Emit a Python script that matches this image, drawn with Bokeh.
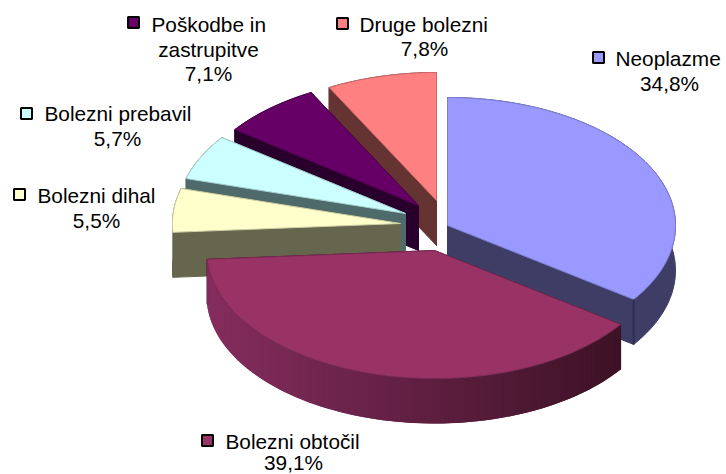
from math import sin, cos, radians
from bokeh.plotting import figure
from bokeh.models import Range1d
from bokeh.core.properties import value
from bokeh.embed import file_html
from bokeh.resources import INLINE

names = ["Neoplazme", "Bolezni obtočil", "Bolezni dihal", "Bolezni prebavil", "Poškodbe in\nzastrupitve", "Druge bolezni"]
shares = [34.8, 39.1, 5.5, 5.7, 7.1, 7.8]
top_colors = ["#9999ff", "#993366", "#ffffcc", "#ccffff", "#660066", "#ff8080"]
wall_colors = ["#3d3d66", "#3d1226", "#66664f", "#4f6a6b", "#28002b", "#663333"]
apex_x = [447, 434, 400, 405, 418, 436]
apex_y = [225, 250, 223, 213, 205, 200]
paint_order = [5, 4, 3, 2, 0, 1]

RX, RY, DEPTH = 228, 128, 45

p = figure(width=726, height=474, output_backend="svg", toolbar_location=None,
           x_range=Range1d(0, 726), y_range=Range1d(474, 0), min_border=0)
p.axis.visible = False
p.grid.visible = False
p.outline_line_color = None
p.background_fill_color = "white"

def mix(a, b, t):
    ca = [int(a[i:i+2], 16) for i in (1, 3, 5)]
    cb = [int(b[i:i+2], 16) for i in (1, 3, 5)]
    return "#%02x%02x%02x" % tuple(round(u + (v - u) * t) for u, v in zip(ca, cb))

starts = []
acc = 0.0
for s in shares:
    starts.append(acc)
    acc += s

xs, ys, fills, strokes, stroke_alpha = [], [], [], [], []
def add(px, py, fill, stroke=None):
    xs.append(px); ys.append(py); fills.append(fill)
    strokes.append(stroke or fill)
    stroke_alpha.append(1.0 if stroke else 0.0)

for i in paint_order:
    a0 = starts[i] * 3.6
    a1 = (starts[i] + shares[i]) * 3.6
    cx, cy = apex_x[i], apex_y[i]
    n = max(8, int(a1 - a0))
    angs = [a0 + (a1 - a0) * k / n for k in range(n + 1)]
    ax = [cx + RX * sin(radians(a)) for a in angs]
    ay = [cy - RY * cos(radians(a)) for a in angs]
    for ex, ey in ((ax[0], ay[0]), (ax[-1], ay[-1])):
        add([cx, ex, ex, cx], [cy, ey, ey + DEPTH, cy + DEPTH], wall_colors[i], wall_colors[i])
    if i == 1:
        for k in range(n):
            j = max(0, k - 1)
            t = (ax[k] - (cx - RX)) / (2 * RX * 0.90)
            add([ax[j], ax[k + 1], ax[k + 1], ax[j]],
                [ay[j], ay[k + 1], ay[k + 1] + DEPTH, ay[j] + DEPTH],
                mix("#852d5e", wall_colors[i], min(1, max(0, t))))
    else:
        add(ax + ax[::-1], ay + [y + DEPTH for y in ay[::-1]], wall_colors[i], wall_colors[i])
    add([cx] + ax, [cy] + ay, top_colors[i], mix(top_colors[i], "#000000", 0.18))

p.patches(xs, ys, fill_color=fills, line_color=strokes, line_alpha=stroke_alpha, line_width=1)

a = (starts[0] + shares[0]) * 3.6
ex = apex_x[0] + RX * sin(radians(a))
ey = apex_y[0] - RY * cos(radians(a))
p.segment([ex], [ey], [ex], [ey + DEPTH], line_color="#2e2e50", line_width=2)

label_font = value("Liberation Sans")
pct = [("%.1f%%" % s).replace(".", ",") for s in shares]
first_x = [615, 225, 37, 44, 151, 359]
first_y = [58, 441, 195, 113, 24, 23.5]
pct_x = [669, 293, 96, 117, 208, 424]
pct_y = [83, 461.5, 220, 138, 73, 48]
key_x = [598, 207, 19, 26, 133, 342]
key_y = [57, 440, 194, 113, 22, 23]
size = "20.8px"
def label(x, y, t, al):
    p.text([x], [y], text=[t], text_font=label_font, text_font_size=size,
           text_color="black", text_baseline="middle", text_align=al)
for i, nm in enumerate(names):
    lines = nm.split("\n")
    label(first_x[i], first_y[i], lines[0], "left")
    if len(lines) > 1:
        label(pct_x[i], first_y[i] + 24.5, lines[1], "center")
    label(pct_x[i], pct_y[i], pct[i], "center")
    p.scatter([key_x[i]], [key_y[i]], marker="square", size=11, fill_color=top_colors[i],
              line_color="black", line_width=2)

open("out.html", "w").write(file_html(p, INLINE))
